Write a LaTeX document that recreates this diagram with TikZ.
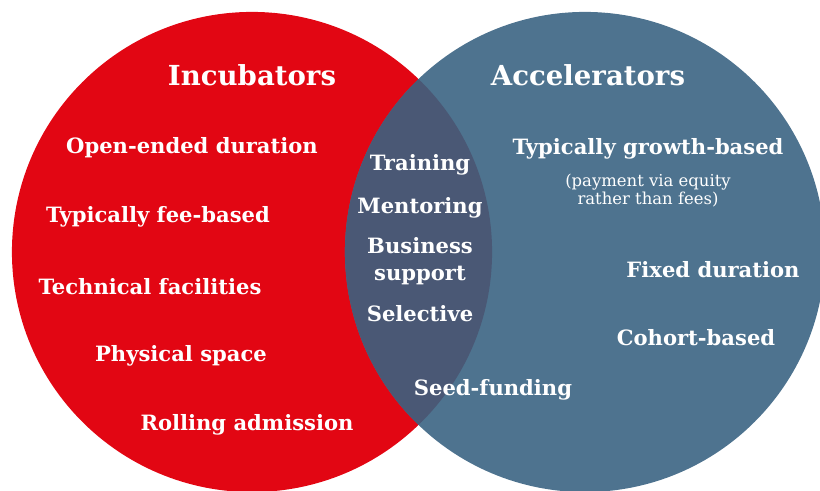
\documentclass[tikz,border=0pt]{standalone}
\usepackage{fontspec}
\setmainfont{DejaVu Serif}
\usetikzlibrary{positioning}
\definecolor{incred}{RGB}{226,6,19}
\definecolor{accblue}{RGB}{78,115,143}
\definecolor{bothblue}{RGB}{74,88,117}
\tikzset{
  label/.style={text=white, font=\fontsize{15}{17.5}\selectfont\bfseries, align=center, inner sep=0pt},
  heading/.style={label, font=\fontsize{19.6}{23}\selectfont\bfseries},
  note/.style={text=white, font=\fontsize{11.7}{13}\selectfont, align=center, inner sep=0pt}
}
\begin{document}
\begin{tikzpicture}[x=0.025cm, y=0.025cm]
    \useasboundingbox (0,0) rectangle (820,491);
    
    % the two sets and their overlap
    \fill[incred] (252,239) circle[radius=6cm];
    \fill[accblue] (585,239) circle[radius=6cm];
    \begin{scope}
        \clip (252,239) circle[radius=6cm];
        \fill[bothblue] (585,239) circle[radius=6cm];
    \end{scope}
    
    \node[heading] (inc) at (252,416) {Incubators};
    \node[heading] (acc) at (588,416) {Accelerators};
    
    % incubators only
    \node[label] (open) at (192,343) {Open-ended duration};
    \node[label] (fee) at (158,274) {Typically fee-based};
    \node[label] (tech) at (150,204) {Technical facilities};
    \node[label] (space) at (181,135) {Physical space};
    \node[label] (rolling) at (247,66) {Rolling admission};
    
    % both
    \node[label] (train) at (420,326) {Training};
    \node[label] (mentor) at (420,283) {Mentoring};
    \node[label] (support) at (420,230) {Business\\[1.6pt]support};
    \node[label] (select) at (420,177) {Selective};
    \node[label] (seed) at (493,101) {Seed-funding};
    
    % accelerators only
    \node[label] (growth) at (648,342) {Typically growth-based};
    \node[note, below=10pt of growth] (equity) {(payment via equity\\rather than fees)};
    \node[label] (fixed) at (713,221) {Fixed duration};
    \node[label] (cohort) at (696,153) {Cohort-based};
    
\end{tikzpicture}
\end{document}
